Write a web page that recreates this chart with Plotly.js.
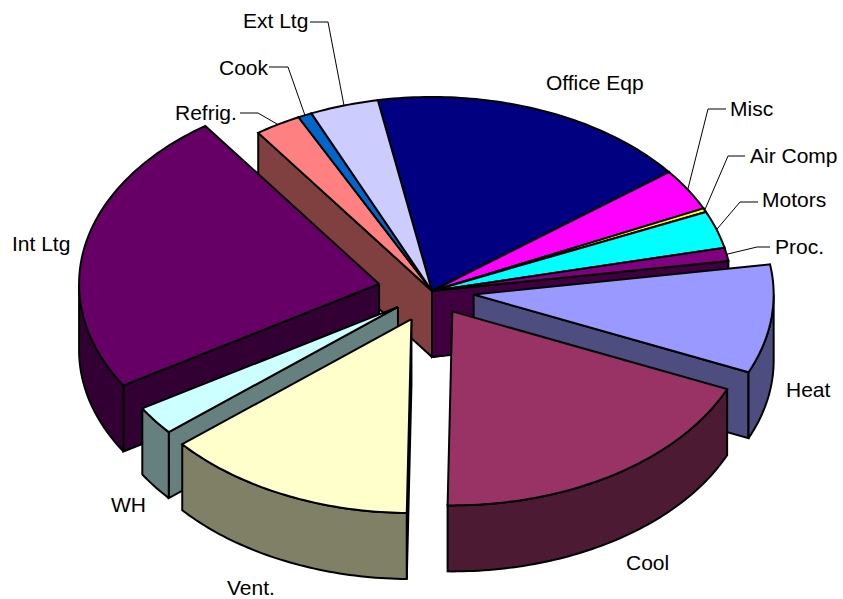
<!DOCTYPE html>
<html><head><meta charset="utf-8">
<script src="https://cdn.plot.ly/plotly-3.0.1.min.js"></script>
<style>html,body{margin:0;padding:0;background:#fff}#c{width:843px;height:599px}</style>
</head><body><div id="c"></div>
<script>
// --- data (share of total, %) ---
const categories = ["Office Eqp","Misc","Air Comp","Motors","Proc.","Heat","Cool","Vent.","WH","Int Ltg","Refrig.","Cook","Ext Ltg"];
const shares     = [17.4,3.5,0.33,3.1,1.1,9.05,18.7,13.6,2.4,23.95,2.5,0.75,3.7];
const explode    = [0,0,0,0,0,0.14,0.125,0.16,0.14,0.18,0,0,0];
const topColors  = ["#000080","#FF00FF","#FFFF00","#00FFFF","#800080","#9999FF","#993366","#FFFFCC","#CCFFFF","#660066","#FF8080","#0066CC","#CCCCFF"];
const sideColors = ["#000040","#800080","#808000","#008080","#400040","#4D4D80","#4D1A33","#808066","#668080","#330033","#804040","#003366","#666680"];

// --- pie geometry ---
const cx=432, cy=291, rx=300, ry=194, depth=66, startDeg=-10.4;
const rad=d=>d*Math.PI/180;
const total=shares.reduce((a,b)=>a+b,0);
let acc=startDeg;
const slices=categories.map((name,i)=>{
  const t0=acc, t1=acc+shares[i]/total*360; acc=t1;
  const mid=(t0+t1)/2, k=explode[i];
  return {i,name,t0,t1,mid,ax:cx+k*rx*Math.sin(rad(mid)),ay:cy-k*ry*Math.cos(rad(mid))};
});
const rim=(s,t,z=0)=>[s.ax+rx*Math.sin(rad(t)),s.ay-ry*Math.cos(rad(t))+z];
function arc(s,a,b,z=0){const n=Math.max(2,Math.ceil(Math.abs(b-a)));const out=[];
  for(let j=0;j<=n;j++)out.push(rim(s,a+(b-a)*j/n,z));return out;}
function poly(pts,color){
  const x=pts.map(p=>p[0]),y=pts.map(p=>p[1]);x.push(x[0]);y.push(y[0]);
  return {type:"scatter",mode:"lines",x,y,fill:"toself",fillcolor:color,
    line:{color:"#000",width:2,simplify:false},hoverinfo:"skip",showlegend:false};
}
function radialWall(s,t){const p=rim(s,t);
  return poly([[s.ax,s.ay],p,[p[0],p[1]+depth],[s.ax,s.ay+depth]],sideColors[s.i]);}
function walls(s){const out=[];
  const w=[];
  if(Math.sin(rad(s.t0))<0)w.push(s.t0);
  if(Math.sin(rad(s.t1))>0)w.push(s.t1);
  w.forEach(t=>out.push({abs:Math.abs(Math.sin(rad(t))),tr:radialWall(s,t)}));
  return out;}
function outerWall(s){
  const a=Math.max(s.t0,90),b=Math.min(s.t1,270);
  if(b<=a)return [];
  const upper=arc(s,a,b),lower=arc(s,b,a,depth);
  return [poly(upper.concat(lower),sideColors[s.i])];
}
function topFace(s){return poly([[s.ax,s.ay]].concat(arc(s,s.t0,s.t1)),topColors[s.i]);}

const traces=[];
// the joined part of the pie
const joined=slices.filter(s=>explode[s.i]===0);
joined.flatMap(walls).sort((a,b)=>a.abs-b.abs).forEach(w=>traces.push(w.tr));
joined.forEach(s=>traces.push(topFace(s)));
// pulled slices, back to front
["Int Ltg","WH","Heat","Vent.","Cool"].forEach(n=>{
  const s=slices.find(q=>q.name===n);
  walls(s).forEach(w=>traces.push(w.tr));
  outerWall(s).forEach(t=>traces.push(t));
  traces.push(topFace(s));
});

// --- label placement ---
const labelPlace={
 "Office Eqp":[595,82],"Misc":[751,108],"Air Comp":[794,155],"Motors":[794,199],"Proc.":[799,246],
 "Heat":[808,389],"Cool":[647,562],"Vent.":[251,587],"WH":[128,504],"Int Ltg":[41,243],
 "Refrig.":[206,112],"Cook":[244,67],"Ext Ltg":[275,20]};
const leaders={
 "Misc":[[726,109],[708,109]],"Air Comp":[[745,156],[728,156]],"Motors":[[758,202],[740,202]],
 "Proc.":[[770,247],[757,247]],"Refrig.":[[240,113],[258,113]],"Cook":[[269,67],[288,67]],"Ext Ltg":[[310,22],[328,22]]};
Object.keys(leaders).forEach(n=>{
  const s=slices.find(q=>q.name===n);
  const pts=leaders[n].concat([rim(s,s.mid)]);
  traces.push({type:"scatter",mode:"lines",x:pts.map(p=>p[0]),y:pts.map(p=>p[1]),
    line:{color:"#000",width:1},hoverinfo:"skip",showlegend:false});
});
const annotations=categories.map(n=>({text:n,x:labelPlace[n][0],y:labelPlace[n][1],xref:"x",yref:"y",
  showarrow:false,xanchor:"center",yanchor:"middle",font:{family:"Liberation Sans, Arial, sans-serif",size:21,color:"#000"}}));

Plotly.newPlot("c",traces,{
  width:843,height:599,margin:{l:0,r:0,t:0,b:0},paper_bgcolor:"#fff",plot_bgcolor:"#fff",showlegend:false,
  xaxis:{range:[0,843],visible:false,fixedrange:true},
  yaxis:{range:[599,0],visible:false,fixedrange:true},
  annotations
},{displayModeBar:false,staticPlot:true});
</script></body></html>
